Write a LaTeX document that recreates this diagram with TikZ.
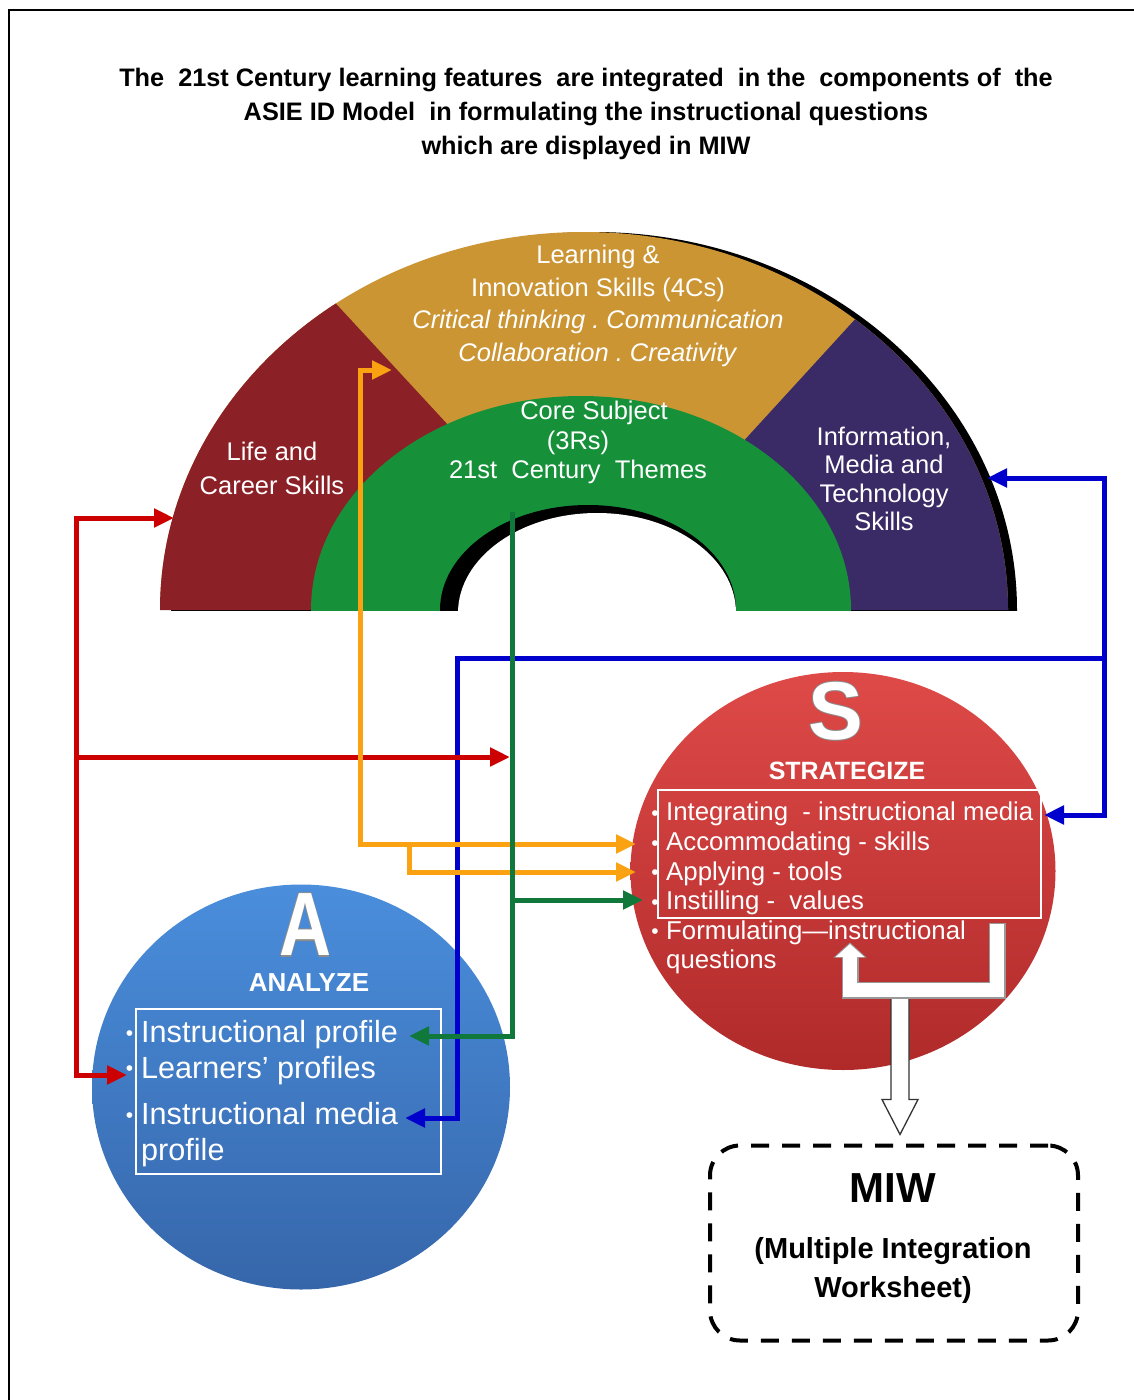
\documentclass[tikz,border=0pt]{standalone}
\usepackage{fontspec}
\setmainfont{Liberation Sans}
\usetikzlibrary{arrows.meta,calc,shapes.geometric}
\frenchspacing

\definecolor{lifered}{RGB}{139,32,38}
\definecolor{learngold}{RGB}{203,149,52}
\definecolor{infopurple}{RGB}{58,42,102}
\definecolor{coregreen}{RGB}{22,145,58}
\definecolor{lnred}{RGB}{204,0,0}
\definecolor{lnorange}{RGB}{250,162,18}
\definecolor{lngreen}{RGB}{16,120,58}
\definecolor{lnblue}{RGB}{0,0,204}
\definecolor{sredtop}{RGB}{222,74,72}
\definecolor{sredbot}{RGB}{176,42,42}
\definecolor{abluetop}{RGB}{74,142,220}
\definecolor{abluebot}{RGB}{54,102,170}

\newcommand{\setfs}[2]{\fontsize{#1}{#2}\selectfont}
\newcommand{\listdot}{\llap{\raisebox{0.5pt}{\setfs{21}{21}\textbullet}\hspace{7.5pt}}}
\newcommand{\biglistdot}{\llap{\raisebox{2.5pt}{\setfs{21}{21}\textbullet}\hspace{8pt}}}
\newcommand{\edged}[1]{%
  \rlap{\kern-1.2pt\textcolor{black!45}{#1}}%
  \rlap{\kern1.2pt\textcolor{black!45}{#1}}%
  \rlap{\raisebox{1.2pt}{\textcolor{black!45}{#1}}}%
  \rlap{\raisebox{-1.2pt}{\textcolor{black!45}{#1}}}%
  \textcolor{white}{#1}}

\begin{document}
\begin{tikzpicture}[x=1pt,y=-1pt,
  connline/.style={line width=5pt,line join=miter},
  arrowline/.style={connline,-{Triangle[length=20pt,width=18pt]}},
  arrowboth/.style={connline,{Triangle[length=20pt,width=18pt]}-{Triangle[length=20pt,width=18pt]}},
  archlabel/.style={text=white,align=center,inner sep=0pt},
  listtext/.style={text=white,align=left,inner sep=0pt,anchor=north west},
  framebox/.style={draw=white,line width=2pt,inner sep=0pt,anchor=north west},
]
\useasboundingbox (0,0) rectangle (1134,1400);
\draw[line width=1.6pt] (9,1400) -- (9,10) -- (1134,10);

% heading
\node[font=\bfseries\setfs{25.3}{34},align=center] (title) at (586,114)
  {The~ 21st Century learning features~ are integrated~ in the~ components of~ the\\
   ASIE ID Model~ in formulating the instructional questions\\
   which are displayed in MIW};

% ---- arch of 21st century skills
\begin{scope}
  \clip (0,0) rectangle (1134,610);
  \fill[black] (594,610) ellipse [x radius=423, y radius=378];
  \begin{scope}
    \clip (584,610) ellipse [x radius=424, y radius=378];
    \fill[learngold] (0,0) rectangle (1134,610);
    \fill[lifered] (0,150) -- (194,150) -- (619,610) -- (0,610) -- cycle;
    \fill[infopurple] (1010,150) -- (1134,150) -- (1134,610) -- (589,610) -- cycle;
  \end{scope}
  \fill[coregreen] (581,610) ellipse [x radius=270, y radius=214];
  \fill[black] (588,610) ellipse [x radius=148, y radius=105];
  \fill[white] (597,613) ellipse [x radius=139, y radius=100];
\end{scope}

\node[archlabel,font=\setfs{25.5}{32.5}] (learn) at (598,306)
  {Learning \&\\Innovation Skills (4Cs)\\\textit{Critical thinking . Communication}\\\textit{Collaboration . Creativity}};
\node[archlabel,font=\setfs{25.5}{34}] (life) at (272,468) {Life and\\Career Skills};
\node[archlabel,font=\setfs{25.5}{29}] (core) at (594,413) {Core Subject};
\node[archlabel,font=\setfs{25.5}{29}] (themes) at (578,457) {(3Rs)\\21st~ Century~ Themes};
\node[archlabel,font=\setfs{25.5}{28.5}] (info) at (884,479) {Information,\\Media and\\Technology\\Skills};

% ---- the two phase circles
\node[ellipse,minimum width=425pt,minimum height=398pt,inner sep=0pt,
      top color=sredtop,bottom color=sredbot] (strat) at (843,871) {};
\node[ellipse,minimum width=418pt,minimum height=405pt,inner sep=0pt,
      top color=abluetop,bottom color=abluebot] (analyze) at (301,1087) {};

\node[font=\bfseries\setfs{82}{82},inner sep=0pt] (sletter) at (836,711) {\edged{S}};
\node[text=white,font=\bfseries\setfs{25}{25}] (stitle) at (847,771) {STRATEGIZE};
\node[font=\bfseries\setfs{90}{90},inner sep=0pt] (aletter) at (305,925) {\scalebox{0.8}[1]{\edged{A}}};
\node[text=white,font=\bfseries\setfs{26}{26}] (atitle) at (309,983) {ANALYZE};

\node[framebox,minimum width=383pt,minimum height=128pt] (sbox) at (657,789) {};
\node[listtext,font=\setfs{25.8}{29.6}] (slist) at (666,802)
  {\listdot Integrating~ - instructional media\\\listdot Accommodating - skills\\
   \listdot Applying - tools\\\listdot Instilling -~ values\\
   \listdot Formulating—instructional\\questions};

\node[framebox,minimum width=305pt,minimum height=165pt] (abox) at (135,1008) {};
\node[listtext,font=\setfs{30.6}{35.5}] (alist) at (141,1020.5)
  {\biglistdot Instructional profile\\\biglistdot Learners’ profiles\\[11pt]
   \biglistdot Instructional media\\profile};

% ---- worksheet
\node[draw=black,line width=4pt,dash pattern=on 18pt off 13pt,rounded corners=30pt,
      minimum width=368pt,minimum height=195pt] (miw) at (894,1243) {};
\node[font=\bfseries\setfs{42}{42}] (miwtitle) at (893,1188) {MIW};
\node[font=\bfseries\setfs{29}{39},align=center] (miwsub) at (893,1270) {(Multiple Integration\\Worksheet)};

% hollow arrow from the strategize phase to the worksheet
\coordinate (hs) at (900,993);
\coordinate (ht) at ($(hs |- miw.north)+(0,-9)$);
\draw[fill=white,draw=black!80,line width=1.3pt,line join=miter]
  ($(hs)+(-9,0)$) -- ($(ht)+(-9,-35)$) -- ($(ht)+(-18,-35)$) -- (ht)
  -- ($(ht)+(18,-35)$) -- ($(ht)+(9,-35)$) -- ($(hs)+(9,0)$) -- cycle;

% feedback arrow inside the strategize phase
\coordinate (lstart) at (997,924);
\coordinate (lcornerA) at (997,990);
\coordinate (lcornerB) at (850,990);
\coordinate (lend) at (850,944);
\draw[line width=17pt,black!40,line join=miter,-{Triangle[length=15pt,width=32pt]}]
  ($(lstart)+(0,-1)$) -- (lcornerA) -- (lcornerB) -- ($(lend)+(0,-1.5)$);
\draw[line width=14pt,white,line join=miter,-{Triangle[length=13pt,width=28pt]}]
  (lstart) -- (lcornerA) -- (lcornerB) -- (lend);

% ---- connection points
\coordinate (rtop) at (76,518);
\coordinate (rmid) at (76,757);
\coordinate (rbot) at (76,1075);
\coordinate (lifein) at (174,518);
\coordinate (lrnin) at (127,1075);
\coordinate (gtop) at (512,512);
\coordinate (gbr) at (512,900);
\coordinate (gbot) at (512,1036);
\coordinate (gmidin) at (510,757);
\coordinate (sins) at (643,900);
\coordinate (ainst) at (409,1036);
\coordinate (otop) at (360,370);
\coordinate (goldin) at (392,370);
\coordinate (obot) at (360,844);
\coordinate (sacc) at (636,844);
\coordinate (obr) at (409,844);
\coordinate (obrdown) at (409,872);
\coordinate (sapp) at (636,872);
\coordinate (btop) at (1104,478);
\coordinate (binfo) at (987,478);
\coordinate (bmid) at (1104,658);
\coordinate (bbot) at (1104,815);
\coordinate (sint) at (1044,815);
\coordinate (bleft) at (457,658);
\coordinate (bdown) at (457,1118);
\coordinate (amed) at (405,1118);

% blue: information, media and technology skills
\draw[arrowboth,lnblue] (binfo) -- (btop) -- (bbot) -- (sint);
\draw[arrowline,lnblue] (bmid) -- (bleft) -- (bdown) -- (amed);
% red: life and career skills
\draw[arrowline,lnred] (rmid) -- (rtop) -- (lifein);
\draw[arrowline,lnred] (rmid) -- (rbot) -- (lrnin);
\draw[arrowline,lnred] (rmid) -- (gmidin);
% orange: learning and innovation skills
\draw[arrowboth,lnorange] (goldin) -- (otop) -- (obot) -- (sacc);
\draw[arrowline,lnorange] (obr) -- (obrdown) -- (sapp);
% green: core subjects
\draw[arrowline,lngreen] (gtop) -- (gbot) -- (ainst);
\draw[arrowline,lngreen] (gbr) -- (sins);
\end{tikzpicture}
\end{document}
